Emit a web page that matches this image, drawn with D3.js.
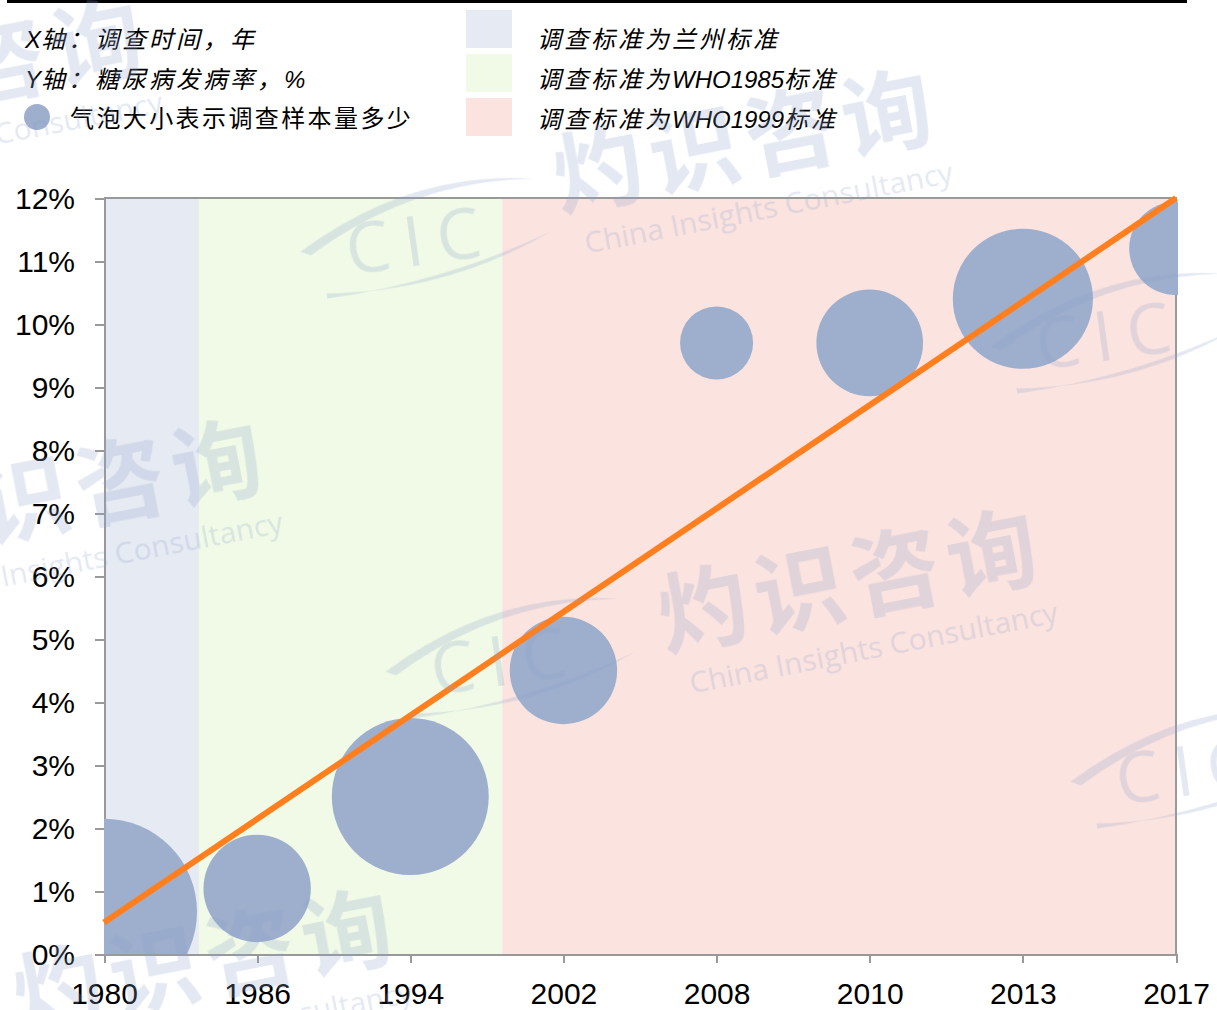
<!DOCTYPE html>
<html>
<head>
<meta charset="utf-8">
<script src="https://cdn.jsdelivr.net/npm/d3@7/dist/d3.min.js"></script>
<style>
  body { margin: 0; background: #fff; }
  .axis path, .axis line { stroke: #999; stroke-width: 2; shape-rendering: crispEdges; }
  .axis text { font-family: "Liberation Sans", Arial, sans-serif; font-size: 30px; fill: #000; }
  .leg { font-family: "Liberation Sans", "Noto Sans CJK SC", sans-serif; font-size: 24px; font-style: italic; fill: #000; }
  .wm { font-family: "Noto Sans CJK SC", sans-serif; fill: #8ea2c8; }
</style>
</head>
<body>
<script>
// survey years (placed evenly, one slot each)
var years = ["1980", "1986", "1994", "2002", "2008", "2010", "2013", "2017"];
// diabetes prevalence, %
var prevalence = [0.67, 1.04, 2.5, 4.5, 9.7, 9.7, 10.4, 11.2];
// survey sample size (bubble area)
var sampleSize = [300000, 100000, 213515, 100000, 46239, 98658, 170287, 75880];

// diagnostic standard periods, in year-slot units
var standardNames = ["调查标准为兰州标准", "调查标准为WHO1985标准", "调查标准为WHO1999标准"];
var standardFrom = [0, 0.62, 2.6];
var standardTo = [0.62, 2.6, 7];
var standardColors = ["#e6eaf3", "#f1fae7", "#fbe3e0"];

// trend line end points
var trendSlot = [0, 7];
var trendValue = [0.5, 12];

var yTicks = d3.range(0, 13);

var W = 1217, H = 1010;
var margin = {top: 198, right: 41, bottom: 56, left: 104};
var w = W - margin.left - margin.right,
    h = H - margin.top - margin.bottom;

var svg = d3.select("body").append("svg")
    .attr("width", W).attr("height", H);

var x = d3.scaleLinear().domain([0, years.length - 1]).range([0, w]);
var y = d3.scaleLinear().domain([0, 12]).range([h, 0]);
var r = d3.scaleSqrt().domain([0, d3.max(sampleSize)]).range([0, 93]);

// CJK runs get wider spacing than latin runs
function spacedText(sel, str) {
  str.match(/[A-Za-z0-9%]+|[^A-Za-z0-9%]+/g).forEach(function(part) {
    sel.append("tspan")
        .style("letter-spacing", /[A-Za-z0-9%]/.test(part) ? "0px" : "3px")
        .text(part);
  });
}

// top rule
svg.append("line")
    .attr("x1", 7).attr("x2", 1187).attr("y1", 1.5).attr("y2", 1.5)
    .attr("stroke", "#000").attr("stroke-width", 3);

// legend, left block
var leftLeg = ["X轴：调查时间，年", "Y轴：糖尿病发病率，%"];
leftLeg.forEach(function(d, i) {
  var t = svg.append("text").attr("class", "leg")
      .attr("x", 25).attr("y", 48 + i * 40);
  spacedText(t, d);
});

svg.append("circle").attr("cx", 37).attr("cy", 117).attr("r", 13).attr("fill", "#9dafcd");
svg.append("text")
    .attr("class", "leg")
    .attr("x", 70).attr("y", 127)
    .style("font-style", "normal")
    .style("letter-spacing", "2.4px")
    .text("气泡大小表示调查样本量多少");

// legend, right block
standardNames.forEach(function(d, i) {
  svg.append("rect")
      .attr("x", 466).attr("y", 10 + i * 44)
      .attr("width", 46).attr("height", 38)
      .attr("fill", standardColors[i]);
  var t = svg.append("text").attr("class", "leg")
      .attr("x", 537).attr("y", 48 + i * 40);
  spacedText(t, d);
});

var g = svg.append("g")
    .attr("transform", "translate(" + margin.left + "," + margin.top + ")");

g.append("clipPath").attr("id", "plotClip")
  .append("rect").attr("x", 0).attr("y", -2).attr("width", w + 2).attr("height", h + 2);

// background periods
g.selectAll(".period").data(standardNames).enter().append("rect")
    .attr("x", function(d, i) { return x(standardFrom[i]); })
    .attr("width", function(d, i) { return x(standardTo[i]) - x(standardFrom[i]); })
    .attr("y", 0).attr("height", h)
    .attr("fill", function(d, i) { return standardColors[i]; });

// plot frame (top and right)
g.append("path")
    .attr("d", "M0,0H" + w + "V" + h)
    .attr("fill", "none").attr("stroke", "#999").attr("stroke-width", 2);

// axes
g.append("g").attr("class", "axis")
    .call(d3.axisLeft(y).tickValues(yTicks).tickSize(9).tickPadding(20)
      .tickFormat(function(d) { return d + "%"; }))
    .selectAll("text").attr("dy", "0.36em");

g.append("g").attr("class", "axis")
    .attr("transform", "translate(0," + h + ")")
    .call(d3.axisBottom(x).tickValues(d3.range(years.length)).tickSize(9).tickPadding(20)
      .tickFormat(function(d) { return years[d]; }))
    .selectAll("text").attr("dy", "0.71em");

// bubbles
var plot = g.append("g").attr("clip-path", "url(#plotClip)");
plot.selectAll(".bubble").data(prevalence).enter().append("circle")
    .attr("cx", function(d, i) { return x(i); })
    .attr("cy", function(d) { return y(d); })
    .attr("r", function(d, i) { return r(sampleSize[i]); })
    .attr("fill", "#9dafcd");

// trend line
g.append("line")
    .attr("x1", x(trendSlot[0])).attr("y1", y(trendValue[0]))
    .attr("x2", x(trendSlot[1])).attr("y2", y(trendValue[1]))
    .attr("stroke", "#ff7f1e").attr("stroke-width", 6);

// watermarks
var marks = [
  {x: 560, y: 210},
  {x: -110, y: 560},
  {x: 665, y: 650},
  {x: 20, y: 1030},
  {x: -230, y: 140}
];
var wm = svg.append("g").attr("opacity", 0.25);
marks.forEach(function(m) {
  var mg = wm.append("g").attr("transform", "translate(" + m.x + "," + m.y + ") rotate(-11)");
  mg.append("text").attr("class", "wm")
      .style("font-size", "90px").style("font-weight", "bold")
      .style("letter-spacing", "8px")
      .text("灼识咨询");
  mg.append("text").attr("class", "wm")
      .attr("x", 18).attr("y", 48)
      .style("font-family", "'Open Sans', sans-serif")
      .style("font-size", "30px")
      .text("China Insights Consultancy");
});
var logos = [{x: 420, y: 240}, {x: 1110, y: 335}, {x: 505, y: 660}, {x: 1190, y: 770}];
logos.forEach(function(l) {
  var lg = wm.append("g").attr("transform", "translate(" + l.x + "," + l.y + ") rotate(-8)");
  lg.append("path")
      .attr("d", "M-120,-5 Q0,-70 120,-45 Q0,-60 -110,0 Z")
      .attr("fill", "#8ea2c8");
  lg.append("path")
      .attr("d", "M-100,40 Q20,55 130,10 Q20,45 -100,45 Z")
      .attr("fill", "#8ea2c8");
  lg.append("text").attr("class", "wm")
      .attr("text-anchor", "middle").attr("y", 25)
      .style("font-family", "'Open Sans', sans-serif")
      .style("font-size", "70px").style("letter-spacing", "14px")
      .text("CIC");
});
</script>
</body>
</html>
